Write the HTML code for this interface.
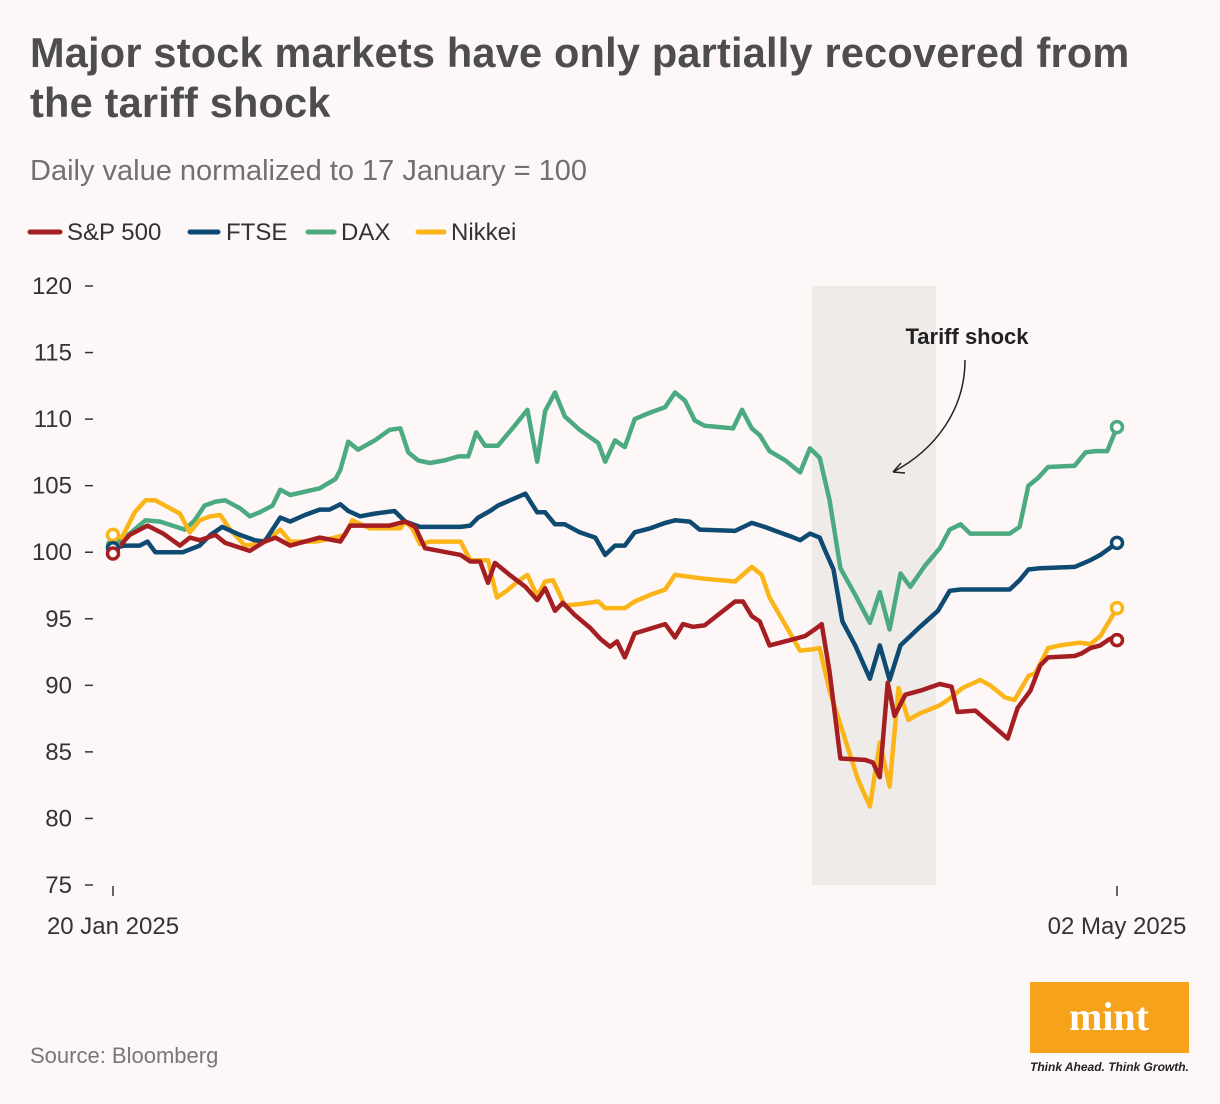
<!DOCTYPE html>
<html><head><meta charset="utf-8"><style>
body{margin:0;background:#fdf8f7;}
svg{display:block;font-family:"Liberation Sans",sans-serif;}
</style></head><body>
<svg id="chart" width="1220" height="1104" viewBox="0 0 1220 1104">
<rect width="1220" height="1104" fill="#fdf8f7"/>
<text x="30" y="67" font-size="41.5" font-weight="bold" fill="#4d4d4d" letter-spacing="0.2">Major stock markets have only partially recovered from</text>
<text x="30" y="117" font-size="41.5" font-weight="bold" fill="#4d4d4d" letter-spacing="0.2">the tariff shock</text>
<text x="30" y="180" font-size="29" fill="#707070">Daily value normalized to 17 January = 100</text>
<g>
<line x1="30" y1="232" x2="60" y2="232" stroke="#a51e22" stroke-width="5" stroke-linecap="round"/>
<text x="67" y="240" font-size="24" fill="#333">S&amp;P 500</text>
<line x1="190" y1="232" x2="218" y2="232" stroke="#0e4a72" stroke-width="5" stroke-linecap="round"/>
<text x="226" y="240" font-size="24" fill="#333">FTSE</text>
<line x1="308" y1="232" x2="334" y2="232" stroke="#4caa80" stroke-width="5" stroke-linecap="round"/>
<text x="341" y="240" font-size="24" fill="#333">DAX</text>
<line x1="418" y1="232" x2="444" y2="232" stroke="#fbb519" stroke-width="5" stroke-linecap="round"/>
<text x="451" y="240" font-size="24" fill="#333">Nikkei</text>
</g>
<g id="plot"></g>
<text x="30" y="1063" font-size="22" fill="#777">Source: Bloomberg</text>
<g>
<rect x="1030" y="982" width="159" height="71" fill="#f7a21b"/>
<text x="1109" y="1030" font-size="40" font-weight="bold" fill="#fff" text-anchor="middle" font-family="Liberation Serif, serif">mint</text>
<text x="1030" y="1071" font-size="12" font-style="italic" font-weight="bold" fill="#222">Think Ahead. Think Growth.</text>
</g>
</svg>
<script>
const yTicks = [75,80,85,90,95,100,105,110,115,120];
const xLabels = ["20 Jan 2025","02 May 2025"];
const xLabelDays = [0,102];
const shockStart = 71, shockEnd = 83.6;
const spDays=[0,1.7,3.5,5.1,6.8,7.8,8.8,10.4,11.4,13.9,15.4,16.5,18.0,21.0,23.1,24.1,28.1,29.7,30.7,31.7,35.3,36.3,37.3,38.1,38.8,40.3,41.9,43.1,43.9,44.9,45.7,46.9,48.5,49.5,50.5,51.2,52.0,53.0,56.1,57.1,57.9,58.9,60.1,63.2,64.0,64.9,65.7,66.7,68.8,70.3,71.3,72.0,72.8,73.9,76.4,77.2,77.9,78.7,79.4,80.5,82.0,84.0,85.2,85.8,87.6,90.9,91.9,93.2,94.2,95.0,97.7,98.4,99.3,100.3,101.3,102];
const spVals=[99.9,101.3,102.0,101.4,100.5,101.1,100.9,101.3,100.7,100.1,100.8,101.1,100.5,101.1,100.8,102.0,102.0,102.3,101.9,100.3,99.8,99.3,99.3,97.7,99.2,98.3,97.4,96.4,97.3,95.6,96.2,95.3,94.3,93.5,92.9,93.3,92.1,93.9,94.6,93.6,94.6,94.4,94.5,96.3,96.3,95.2,94.8,93.0,93.4,93.7,94.2,94.6,91.0,84.5,84.4,84.2,83.1,90.2,87.7,89.3,89.6,90.1,89.9,88.0,88.1,86.0,88.3,89.6,91.5,92.1,92.2,92.4,92.8,93.0,93.5,93.4];
const ftseDays=[0,1.2,2.7,3.5,4.3,7.1,8.8,9.9,11.1,12.9,14.4,15.4,17.0,18.0,19.5,21.0,22.0,23.1,23.9,25.1,26.6,28.6,29.7,31.2,35.3,36.3,37.1,38.3,39.1,41.9,43.1,43.9,44.9,45.9,47.4,49.0,50.0,51.0,52.0,53.0,54.6,56.1,57.1,58.6,59.6,63.2,64.9,66.2,67.3,68.8,69.8,70.8,71.8,72.3,73.2,74.1,75.4,76.9,77.9,78.9,80.0,82.0,83.8,85.0,86.1,91.1,92.1,93.0,94.2,97.7,99.3,100.3,102];
const ftseVals=[100.3,100.5,100.5,100.8,100.0,100.0,100.5,101.3,101.9,101.3,100.9,100.8,102.6,102.3,102.8,103.2,103.2,103.6,103.1,102.7,102.9,103.1,102.3,101.9,101.9,102.0,102.6,103.1,103.5,104.4,103.0,103.0,102.1,102.1,101.5,101.1,99.8,100.5,100.5,101.5,101.8,102.2,102.4,102.3,101.7,101.6,102.2,101.9,101.6,101.2,100.9,101.4,101.1,100.2,98.7,94.8,93.0,90.5,93.0,90.4,93.0,94.4,95.6,97.1,97.2,97.2,97.9,98.7,98.8,98.9,99.4,99.8,100.7];
const daxDays=[0,1.2,3.3,4.8,7.3,8.3,9.3,10.4,11.4,12.9,13.9,14.9,16.2,17.0,18.0,21.0,22.6,23.1,23.9,24.9,26.6,28.1,29.2,30.0,31.0,32.2,33.7,35.1,36.1,36.9,37.8,39.1,40.8,42.1,43.1,43.9,44.9,45.9,47.4,49.3,50.0,51.0,52.0,53.0,54.6,56.1,57.1,58.1,59.1,60.1,63.0,63.9,64.9,65.7,66.7,68.3,69.8,70.8,71.8,72.8,73.9,75.4,76.9,77.9,78.9,80.0,81.0,82.5,84.0,85.0,86.1,87.1,91.1,92.1,93.0,94.0,95.0,97.7,98.8,99.8,101.0,102];
const daxVals=[100.5,101.1,102.4,102.3,101.7,102.4,103.5,103.8,103.9,103.3,102.7,103.0,103.5,104.7,104.3,104.8,105.5,106.2,108.3,107.7,108.4,109.2,109.3,107.5,106.9,106.7,106.9,107.2,107.2,109.0,108.0,108.0,109.5,110.7,106.8,110.6,112.0,110.2,109.2,108.2,106.8,108.4,107.9,110.0,110.5,110.9,112.0,111.4,109.9,109.5,109.3,110.7,109.3,108.8,107.6,106.9,106.0,107.8,107.1,103.9,98.8,96.8,94.7,97.0,94.2,98.4,97.4,99.0,100.3,101.7,102.1,101.4,101.4,101.9,105.0,105.6,106.4,106.5,107.5,107.6,107.6,109.4];
const nkDays=[0,0.9,2.2,3.3,4.3,5.3,6.8,7.8,8.8,9.9,10.9,11.9,13.4,14.4,16.0,17.0,18.0,20.5,22.0,23.6,24.3,26.1,29.2,29.7,30.4,31.2,32.2,35.3,36.3,37.3,38.1,39.0,40.0,41.3,42.1,43.1,43.9,44.7,45.9,47.4,49.3,50.0,52.0,53.0,54.6,56.1,57.1,58.1,59.1,60.1,63.2,64.9,65.9,66.7,68.8,69.8,71.0,71.8,72.8,74.4,75.7,76.9,77.9,78.9,79.8,80.8,82.0,84.0,85.0,86.3,88.1,89.1,90.6,91.6,93.0,93.7,95.0,96.2,98.2,99.3,100.3,102];
const nkVals=[101.3,101.1,103.0,103.9,103.9,103.5,102.9,101.5,102.4,102.7,102.8,101.7,100.5,100.6,101.1,101.7,100.8,100.8,101.0,101.3,102.4,101.8,101.8,102.3,101.8,100.6,100.8,100.8,99.4,99.4,99.4,96.6,97.1,97.9,98.3,96.7,97.8,97.9,96.0,96.1,96.3,95.8,95.8,96.3,96.8,97.2,98.3,98.2,98.1,98.0,97.8,98.9,98.3,96.6,93.9,92.6,92.7,92.8,89.6,85.9,82.9,80.9,85.7,82.4,89.8,87.4,87.9,88.5,89.0,89.8,90.4,90.0,89.1,88.9,90.7,90.9,92.8,93.0,93.2,93.1,93.7,95.8];

const NS="http://www.w3.org/2000/svg";
const X0=113,X1=1117,DMAX=102,Y0=885,Y1=286,VMIN=75,VMAX=120;
const xs=d=>X0+(d/DMAX)*(X1-X0);
const ys=v=>Y0-(v-VMIN)/(VMAX-VMIN)*(Y0-Y1);
const plot=document.getElementById('plot');
function mk(tag,attrs){const e=document.createElementNS(NS,tag);for(const k in attrs)e.setAttribute(k,attrs[k]);plot.appendChild(e);return e;}

const sh=mk('rect',{x:xs(shockStart),y:Y1,width:xs(shockEnd)-xs(shockStart),height:Y0-Y1,fill:'#efebe9'});



yTicks.forEach(t=>{
  const l=mk('line',{x1:85,x2:93,y1:ys(t),y2:ys(t),stroke:'#333','stroke-width':1.5});
  
  
  const tx=mk('text',{x:72,y:ys(t)+8,'font-size':24,fill:'#333','text-anchor':'end'});
  tx.textContent=t;
  
  
});
xLabels.forEach((lab,i)=>{
  const x=xs(xLabelDays[i]);
  const l=mk('line',{x1:x,x2:x,y1:886,y2:896,stroke:'#333','stroke-width':1.5});
  
  
  const tx=mk('text',{x:x,y:934,'font-size':24,fill:'#333','text-anchor':'middle'});
  tx.textContent=lab;
  
  
});

const ann=mk('text',{x:967,y:344,'font-size':22,'font-weight':'bold',fill:'#222','text-anchor':'middle'});
ann.textContent='Tariff shock';


const arr=mk('path',{d:'M965 360 C965 410 935 450 893 472',fill:'none',stroke:'#222','stroke-width':1.5});


const ah=mk('path',{d:'M893 472 L901 463 M893 472 L905 473',fill:'none',stroke:'#222','stroke-width':1.5});



const series=[
 {n:'dax',d:daxDays,v:daxVals,c:'#4caa80'},
 {n:'nikkei',d:nkDays,v:nkVals,c:'#fbb519'},
 {n:'ftse',d:ftseDays,v:ftseVals,c:'#0e4a72'},
 {n:'sp500',d:spDays,v:spVals,c:'#a51e22'}
];
series.forEach(s=>{
  const pts=s.d.map((d,i)=>xs(d).toFixed(1)+','+ys(s.v[i]).toFixed(1)).join(' ');
  const p=mk('polyline',{points:pts,fill:'none',stroke:s.c,'stroke-width':4.5,'stroke-linejoin':'round','stroke-linecap':'round'});
  
  
});
series.forEach(s=>{
  [0,s.d.length-1].forEach(i=>{
    const c=mk('circle',{cx:xs(s.d[i]),cy:ys(s.v[i]),r:5.5,fill:'#fff',stroke:s.c,'stroke-width':3.5});
    
    
  });
});
</script>
</body></html>
